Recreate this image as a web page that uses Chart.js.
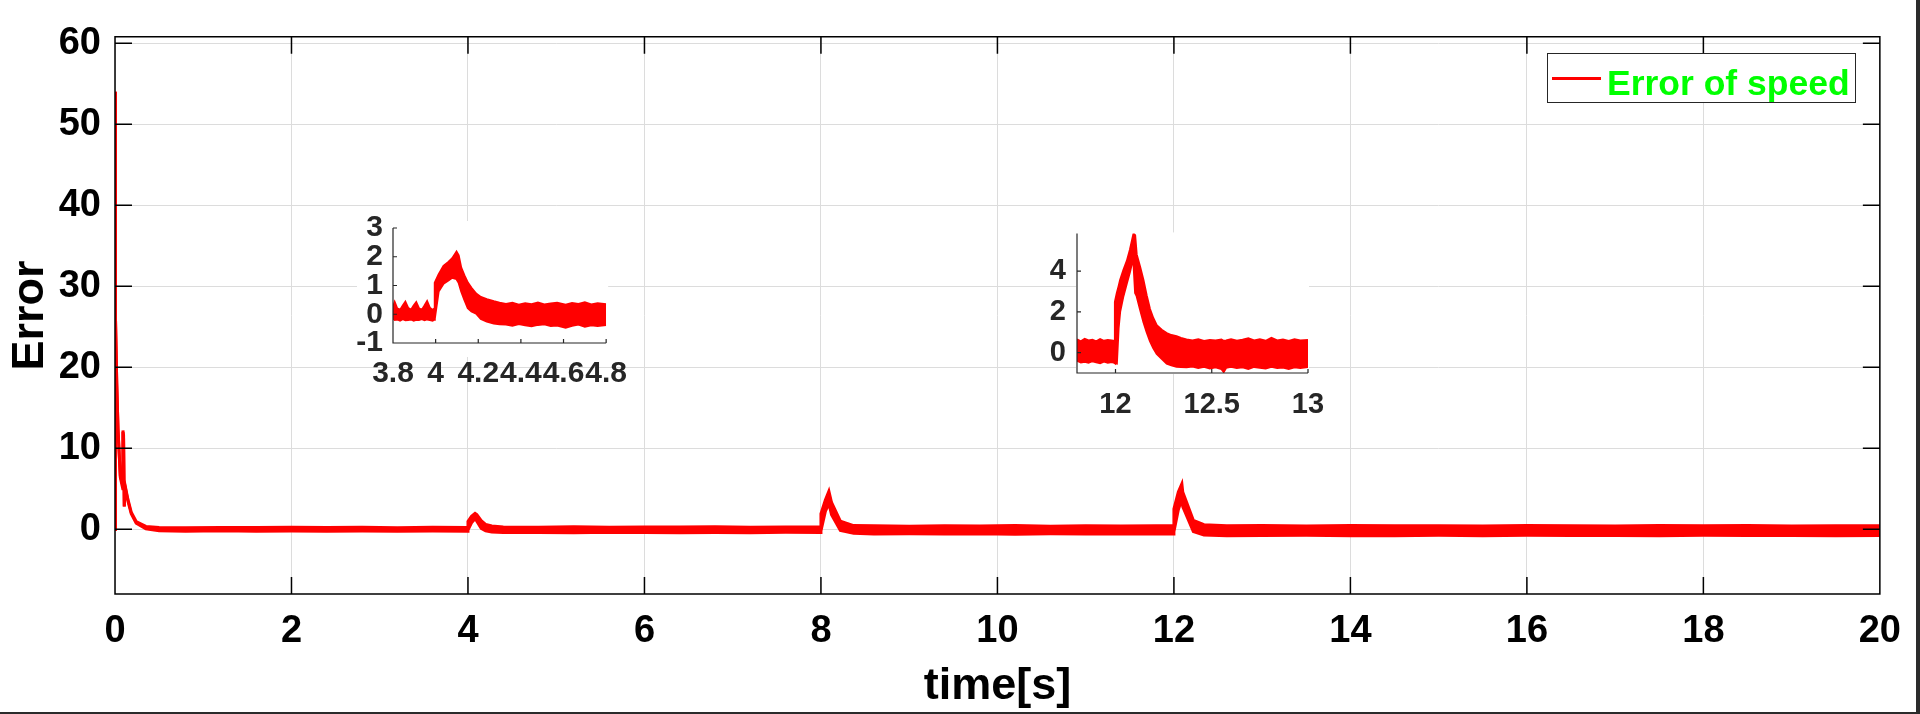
<!DOCTYPE html>
<html>
<head>
<meta charset="utf-8">
<title>Error of speed</title>
<script src="https://cdn.jsdelivr.net/npm/chart.js@4.4.1/dist/chart.umd.min.js"></script>
<style>
  html, body { margin: 0; padding: 0; background: #fff; }
  #page { position: relative; width: 1920px; height: 714px; background: #2b2b2b; overflow: hidden; }
  #sheet { position: absolute; left: 0; top: 0; width: 1916px; height: 712px; background: #fff; }
  #mainBox { position: absolute; left: 0; top: 0; width: 1916px; height: 712px; }
  #insetABox { position: absolute; left: 330px; top: 200px; width: 310px; height: 195px; }
  #insetBBox { position: absolute; left: 1010px; top: 205px; width: 340px; height: 230px; }
  #legend { position: absolute; left: 1547px; top: 53px; width: 309px; height: 50px; box-sizing: border-box;
            border: 1px solid #262626; background: #fff; }
  #legend .swatch { position: absolute; left: 4px; top: 23px; width: 49px; height: 3px; background: #ff0000; }
  #legend .label { position: absolute; left: 59px; top: 9px; line-height: 35.5px; white-space: nowrap;
                   font: bold 35.5px "Liberation Sans", Arial, sans-serif; color: #00ff00; }
</style>
</head>
<body>
<div id="page">
  <div id="sheet">
    <div id="mainBox"><canvas id="mainChart"></canvas></div>
    <div id="insetABox"><canvas id="insetA"></canvas></div>
    <div id="insetBBox"><canvas id="insetB"></canvas></div>
    <div id="legend"><span class="swatch"></span><span class="label">Error of speed</span></div>
  </div>
</div>
<script>
// main plot: the noisy signal is kept as its upper / lower edge
var mainTime  = [0, 0.002, 0.005, 0.01, 0.02, 0.034, 0.06, 0.088, 0.09, 0.097, 0.105, 0.115, 0.146, 0.184, 0.24, 0.35, 0.5,
                 0.8, 1.2, 1.6, 2.0, 2.4, 2.8, 3.2, 3.6, 3.995,
                 4.0, 4.04, 4.08, 4.1, 4.15, 4.2, 4.27, 4.4, 4.8, 5.2, 5.6, 6.0, 6.4, 6.8, 7.2, 7.6, 7.995,
                 8.0, 8.05, 8.09, 8.12, 8.22, 8.37, 8.6, 9.0, 9.4, 9.8, 10.2, 10.6, 11.0, 11.4, 11.8, 11.995,
                 12.0, 12.05, 12.09, 12.1, 12.22, 12.34, 12.6, 13.0, 13.5, 14.0, 14.5, 15.0, 15.5, 16.0, 16.5,
                 17.0, 17.5, 18.0, 18.5, 19.0, 19.5, 20.0];
var mainUpper = [0, 54, 38, 26, 18, 12.4, 6.6, 5.4, 12.2, 11.6, 2.8, 5.4, 3.7, 2.1, 0.95, 0.35, 0.22,
                 0.18, 0.22, 0.2, 0.24, 0.2, 0.23, 0.19, 0.24, 0.22,
                 0.95, 1.6, 1.95, 1.8, 1.05, 0.6, 0.4, 0.28, 0.25, 0.3, 0.24, 0.28, 0.26, 0.3, 0.25, 0.28, 0.26,
                 1.9, 3.6, 4.7, 3.3, 1.0, 0.45, 0.42, 0.38, 0.44, 0.4, 0.45, 0.38, 0.42, 0.4, 0.44, 0.42,
                 2.5, 4.6, 5.6, 4.6, 1.1, 0.55, 0.42, 0.45, 0.4, 0.46, 0.42, 0.44, 0.4, 0.46, 0.43,
                 0.4, 0.45, 0.42, 0.46, 0.41, 0.44, 0.43];
var mainLower = [0, 54, 38, 26, 18, 12.4, 6.4, 5.0, 12.0, 11.2, 2.8, 5.2, 3.5, 1.9, 0.75, 0.05, -0.2,
                 -0.24, -0.2, -0.26, -0.22, -0.25, -0.21, -0.26, -0.23, -0.24,
                 -0.1, 0.8, 1.3, 1.0, 0.1, -0.2, -0.35, -0.42, -0.4, -0.44, -0.38, -0.42, -0.45, -0.4, -0.43, -0.38, -0.4,
                 -0.2, 2.2, 3.2, 1.8, -0.15, -0.5, -0.58, -0.55, -0.6, -0.56, -0.62, -0.57, -0.6, -0.55, -0.6, -0.58,
                 -0.3, 2.4, 3.8, 2.8, -0.3, -0.72, -0.8, -0.78, -0.74, -0.8, -0.82, -0.76, -0.8, -0.75, -0.79,
                 -0.77, -0.81, -0.75, -0.79, -0.77, -0.82, -0.78];
var mainXTicks = [0, 2, 4, 6, 8, 10, 12, 14, 16, 18, 20];
var mainYTicks = [0, 10, 20, 30, 40, 50, 60];

// zoom around t = 4 s
var insetATime  = [3.8, 3.808, 3.82, 3.833, 3.846, 3.858, 3.871, 3.884, 3.897, 3.909, 3.922, 3.935, 3.948, 3.96, 3.973, 3.986, 3.994,
                   3.996, 4.014, 4.037, 4.06, 4.078, 4.098, 4.108, 4.12, 4.135, 4.151, 4.168, 4.19, 4.212, 4.24, 4.273, 4.3,
                   4.33, 4.36, 4.39, 4.42, 4.45, 4.48, 4.51, 4.54, 4.57, 4.61, 4.64, 4.67, 4.7, 4.73, 4.76, 4.8];
var insetAUpper = [0.25, 0.42, 0.2, 0.15, 0.3, 0.43, 0.22, 0.15, 0.3, 0.42, 0.2, 0.15, 0.3, 0.45, 0.22, 0.15, 0.2,
                   1.1, 1.38, 1.68, 1.82, 1.95, 2.18, 2.05, 1.62, 1.35, 1.1, 0.92, 0.72, 0.6, 0.52, 0.45, 0.4,
                   0.36, 0.4, 0.33, 0.38, 0.35, 0.41, 0.34, 0.37, 0.4, 0.33, 0.39, 0.36, 0.42, 0.34, 0.38, 0.35];
var insetALower = [-0.15, -0.2, -0.18, -0.22, -0.17, -0.21, -0.2, -0.18, -0.22, -0.19, -0.2, -0.17, -0.21, -0.18, -0.2, -0.22, -0.19,
                   -0.15, 0.79, 1.06, 1.18, 1.27, 1.22, 1.1, 0.79, 0.5, 0.21, 0.1, 0.02, -0.16, -0.25, -0.32, -0.35,
                   -0.36, -0.4, -0.34, -0.38, -0.42, -0.37, -0.35, -0.41, -0.39, -0.47, -0.4, -0.36, -0.43, -0.38, -0.41, -0.37];
var insetAXTicks  = [3.8, 4, 4.2, 4.4, 4.6, 4.8];
var insetAXLabels = ['3.8', '4', '4.2', '4.4', '4.6', '4.8'];
var insetAYTicks  = [-1, 0, 1, 2, 3];

// zoom around t = 12 s
var insetBTime  = [11.8, 11.82, 11.84, 11.86, 11.88, 11.9, 11.92, 11.94, 11.96, 11.98,
                   11.994, 11.997, 12.007, 12.016, 12.024, 12.041, 12.059, 12.075, 12.088, 12.094, 12.102, 12.11,
                   12.128, 12.145, 12.162, 12.179, 12.196, 12.214, 12.24, 12.266, 12.29, 12.317, 12.34, 12.369,
                   12.4, 12.43, 12.46, 12.49, 12.52, 12.55, 12.562, 12.575, 12.6, 12.63, 12.66, 12.69, 12.72, 12.75,
                   12.78, 12.81, 12.84, 12.87, 12.9, 12.93, 12.96, 13.0];
var insetBUpper = [0.65, 0.55, 0.68, 0.6, 0.63, 0.55, 0.66, 0.58, 0.62, 0.6,
                   0.57, 2.49, 2.93, 3.25, 3.56, 4.05, 4.5, 5.05, 5.6, 5.85, 5.75, 4.82,
                   4.2, 3.56, 2.8, 2.14, 1.7, 1.35, 1.12, 0.96, 0.86, 0.8, 0.72, 0.65,
                   0.6, 0.66, 0.57, 0.62, 0.6, 0.64, 0.58, 0.6, 0.66, 0.58, 0.63, 0.7, 0.6, 0.65,
                   0.58, 0.72, 0.6, 0.64, 0.57, 0.66, 0.6, 0.62];
var insetBLower = [-0.4, -0.48, -0.45, -0.5, -0.42, -0.47, -0.52, -0.44, -0.49, -0.46,
                   -0.5, -0.52, -0.54, 1.2, 2.0, 2.77, 3.4, 3.95, 4.5, 4.3, 2.93, 2.77,
                   2.1, 1.51, 1.0, 0.57, 0.22, -0.06, -0.3, -0.54, -0.62, -0.69, -0.7, -0.72,
                   -0.68, -0.75, -0.7, -0.78, -0.72, -0.8, -0.95, -0.74, -0.7, -0.76, -0.72, -0.8, -0.7, -0.74,
                   -0.78, -0.7, -0.76, -0.73, -0.8, -0.72, -0.75, -0.7];
var insetBXTicks  = [12, 12.5, 13];
var insetBXLabels = ['12', '12.5', '13'];
var insetBYTicks  = [0, 2, 4];

var FONT = '"Liberation Sans", Arial, Helvetica, sans-serif';

function pts(xs, ys) {
  var out = [];
  for (var i = 0; i < xs.length; i++) out.push({ x: xs[i], y: ys[i] });
  return out;
}

// box, inward tick marks and optional white backing, like matlab axes
var axesFrame = {
  id: 'axesFrame',
  beforeDraw: function(chart, args, o) {
    if (!o.back) return;
    var a = chart.chartArea, c = chart.ctx;
    c.save();
    c.fillStyle = '#ffffff';
    c.fillRect(a.left - o.back[0], a.top - o.back[1], a.right - a.left + o.back[0] + o.back[2], a.bottom - a.top + o.back[1] + o.back[3]);
    c.restore();
  },
  afterDraw: function(chart, args, o) {
    var a = chart.chartArea, c = chart.ctx;
    var xs = chart.scales.x, ys = chart.scales.y;
    c.save();
    c.strokeStyle = o.color;
    c.lineWidth = o.width;
    c.beginPath();
    c.moveTo(a.left, a.top);
    c.lineTo(a.left, a.bottom);
    c.lineTo(a.right, a.bottom);
    if (o.box) { c.lineTo(a.right, a.top); c.closePath(); }
    xs.ticks.forEach(function(t) {
      var p = xs.getPixelForValue(t.value);
      c.moveTo(p, a.bottom); c.lineTo(p, a.bottom - o.tick);
      if (o.box) { c.moveTo(p, a.top); c.lineTo(p, a.top + o.tick); }
    });
    ys.ticks.forEach(function(t) {
      var p = ys.getPixelForValue(t.value);
      c.moveTo(a.left, p); c.lineTo(a.left + o.tick, p);
      if (o.box) { c.moveTo(a.right, p); c.lineTo(a.right - o.tick, p); }
    });
    c.stroke();
    c.restore();
  }
};

function band(time, upper, lower, lw) {
  return [
    { data: pts(time, upper), borderColor: '#ff0000', backgroundColor: '#ff0000', borderWidth: lw,
      pointRadius: 0, tension: 0, fill: '+1' },
    { data: pts(time, lower), borderColor: '#ff0000', backgroundColor: '#ff0000', borderWidth: lw,
      pointRadius: 0, tension: 0, fill: false }
  ];
}

// main chart
new Chart(document.getElementById('mainChart'), {
  type: 'line',
  data: { datasets: band(mainTime, mainUpper, mainLower, 3) },
  options: {
    responsive: true, maintainAspectRatio: false, animation: false, events: [],
    layout: { padding: { left: 0, top: 15, right: 23, bottom: 0 } },
    plugins: {
      legend: { display: false }, tooltip: { enabled: false },
      axesFrame: { color: '#000000', width: 1.5, tick: 17, box: true }
    },
    scales: {
      x: {
        type: 'linear', min: 0, max: 20,
        afterBuildTicks: function(s) { s.ticks = mainXTicks.map(function(v) { return { value: v }; }); },
        afterFit: function(s) { s.height = 118; },
        ticks: { color: '#000', font: { family: FONT, size: 38, weight: 'bold' }, padding: 15,
                 maxRotation: 0, minRotation: 0, autoSkip: false },
        grid: { color: '#dcdcdc', lineWidth: 1, drawTicks: false },
        border: { display: false },
        title: { display: true, text: 'time[s]', color: '#000', font: { family: FONT, size: 45, weight: 'bold' },
                 padding: { top: 0, bottom: -2 } }
      },
      y: {
        type: 'linear', min: -8, max: 60.8,
        afterBuildTicks: function(s) { s.ticks = mainYTicks.map(function(v) { return { value: v }; }); },
        afterFit: function(s) { s.width = 115; },
        ticks: { color: '#000', font: { family: FONT, size: 38, weight: 'bold' }, padding: 14, autoSkip: false },
        grid: { color: '#dcdcdc', lineWidth: 1, drawTicks: false },
        border: { display: false },
        title: { display: true, text: 'Error', color: '#000', font: { family: FONT, size: 45, weight: 'bold' },
                 padding: { top: 4, bottom: 0 } }
      }
    }
  },
  plugins: [axesFrame]
});

function insetOptions(cfg) {
  return {
    responsive: true, maintainAspectRatio: false, animation: false, events: [],
    layout: { padding: cfg.pad },
    plugins: {
      legend: { display: false }, tooltip: { enabled: false },
      axesFrame: { color: '#262626', width: 1.2, tick: 4, box: false, back: cfg.back }
    },
    scales: {
      x: {
        type: 'linear', min: cfg.xMin, max: cfg.xMax,
        afterBuildTicks: function(s) { s.ticks = cfg.xTicks.map(function(v) { return { value: v }; }); },
        afterFit: function(s) { s.height = cfg.xH; },
        ticks: { color: '#262626', font: { family: FONT, size: cfg.font, weight: 'bold' }, padding: cfg.xPad,
                 maxRotation: 0, minRotation: 0, autoSkip: false,
                 callback: function(v, i) { return cfg.xLabels[i]; } },
        grid: { display: false, drawTicks: false },
        border: { display: false }
      },
      y: {
        type: 'linear', min: cfg.yMin, max: cfg.yMax,
        afterBuildTicks: function(s) { s.ticks = cfg.yTicks.map(function(v) { return { value: v }; }); },
        afterFit: function(s) { s.width = cfg.yW; },
        ticks: { color: '#262626', font: { family: FONT, size: cfg.font, weight: 'bold' }, padding: cfg.yPad,
                 autoSkip: false },
        grid: { display: false, drawTicks: false },
        border: { display: false }
      }
    }
  };
}

new Chart(document.getElementById('insetA'), {
  type: 'line',
  data: { datasets: band(insetATime, insetAUpper, insetALower, 2) },
  options: insetOptions({
    pad: { left: 0, top: 17, right: 28, bottom: 0 }, back: [36, 7, 2, 14],
    xMin: 3.8, xMax: 4.8, yMin: -1, yMax: 3, xTicks: insetAXTicks, xLabels: insetAXLabels, yTicks: insetAYTicks,
    xH: 52, yW: 63, font: 30, xPad: 13, yPad: 10
  }),
  plugins: [axesFrame]
});

new Chart(document.getElementById('insetB'), {
  type: 'line',
  data: { datasets: band(insetBTime, insetBUpper, insetBLower, 2) },
  options: insetOptions({
    pad: { left: 0, top: 23, right: 42, bottom: 0 }, back: [1, 1, 1, 1],
    xMin: 11.8, xMax: 13, yMin: -1, yMax: 5.85, xTicks: insetBXTicks, xLabels: insetBXLabels, yTicks: insetBYTicks,
    xH: 62, yW: 67, font: 29, xPad: 15, yPad: 11
  }),
  plugins: [axesFrame]
});
</script>
</body>
</html>
